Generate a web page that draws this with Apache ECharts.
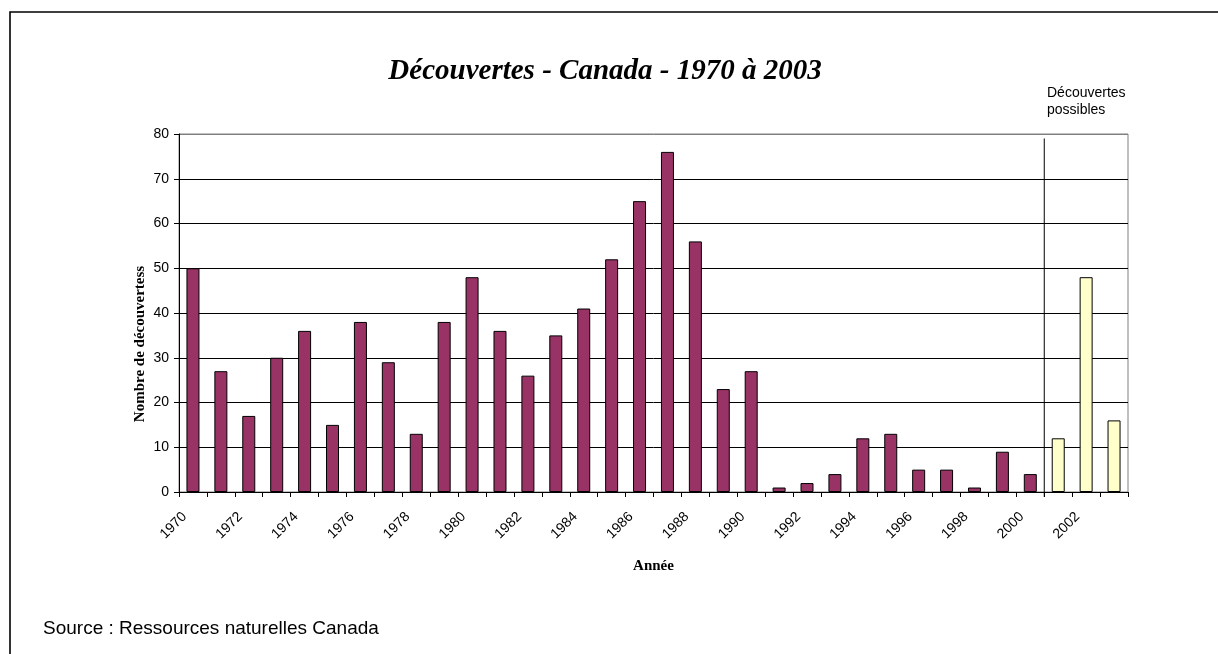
<!DOCTYPE html>
<html>
<head>
<meta charset="utf-8">
<script src="https://cdn.jsdelivr.net/npm/echarts@6/dist/echarts.min.js"></script>
<style>
  html, body { margin: 0; padding: 0; background: #fff; }
  #chart { width: 1218px; height: 654px; }
</style>
</head>
<body>
<div id="chart"></div>
<script>
// Annual discoveries in Canada, 1970-2003 (last three years: possible discoveries)
const years = ['1970', '1971', '1972', '1973', '1974', '1975', '1976', '1977', '1978', '1979',
  '1980', '1981', '1982', '1983', '1984', '1985', '1986', '1987', '1988', '1989',
  '1990', '1991', '1992', '1993', '1994', '1995', '1996', '1997', '1998', '1999',
  '2000', '2001', '2002', '2003'];
const discoveries = [50, 27, 17, 30, 36, 15, 38, 29, 13, 38,
  48, 36, 26, 35, 41, 52, 65, 76, 56, 23,
  27, 1, 2, 4, 12, 13, 5, 5, 1, 9,
  4, 12, 48, 16];
const possibleYears = ['2001', '2002', '2003'];
const yTicks = [0, 10, 20, 30, 40, 50, 60, 70, 80];

const MAROON = '#993366';
const PALE = '#FFFFCC';

const chart = echarts.init(document.getElementById('chart'), null, { renderer: 'canvas' });

const barData = discoveries.map((v, i) => ({
  value: v,
  itemStyle: { color: possibleYears.includes(years[i]) ? PALE : MAROON }
}));

// grid lines are black, except the top one that merges with the grey frame
const splitColors = yTicks.map((t, i) => (i === yTicks.length - 1 ? '#808080' : '#000'));

chart.setOption({
  animation: false,
  backgroundColor: '#fff',
  title: {
    text: 'Découvertes - Canada - 1970 à 2003',
    left: 600,
    top: 52,
    textAlign: 'center',
    textStyle: {
      fontFamily: '"Liberation Serif", "Times New Roman", serif',
      fontStyle: 'italic',
      fontWeight: 'bold',
      fontSize: 29,
      color: '#000'
    }
  },
  grid: {
    left: 179, right: 90, top: 134, bottom: 162,
    show: true, borderColor: '#808080', borderWidth: 1, backgroundColor: 'transparent'
  },
  xAxis: {
    type: 'category',
    data: years,
    name: 'Année',
    nameLocation: 'middle',
    nameGap: 67,
    nameTextStyle: {
      fontFamily: '"Liberation Serif", "Times New Roman", serif',
      fontWeight: 'bold', fontSize: 15, color: '#000'
    },
    axisLine: { lineStyle: { color: '#000', width: 1 } },
    axisTick: { show: true, interval: 0, length: 5, lineStyle: { color: '#000' } },
    axisLabel: {
      interval: 1,
      rotate: 45,
      margin: 14,
      padding: [0, 12, 0, 0],
      fontFamily: '"Liberation Sans", Arial, sans-serif',
      fontSize: 14,
      color: '#000'
    },
    splitLine: { show: false }
  },
  yAxis: {
    type: 'value',
    min: 0, max: 80, interval: 10,
    axisLine: { show: true, lineStyle: { color: '#000', width: 1 } },
    axisTick: { show: true, length: 5, lineStyle: { color: '#000' } },
    axisLabel: {
      margin: 10,
      fontFamily: '"Liberation Sans", Arial, sans-serif',
      fontSize: 14,
      color: '#000'
    },
    splitLine: { show: true, lineStyle: { color: splitColors, width: 1 } }
  },
  series: [{
    type: 'bar',
    data: barData,
    barWidth: 13,
    itemStyle: { borderColor: '#000', borderWidth: 1 }
  }]
});

// separator before the possible discoveries, plus surrounding texts
function drawExtras() {
  const idx = years.indexOf(possibleYears[0]);
  const a = chart.convertToPixel({ xAxisIndex: 0, yAxisIndex: 0 }, [idx - 1, 79]);
  const b = chart.convertToPixel({ xAxisIndex: 0, yAxisIndex: 0 }, [idx, 0]);
  const xSep = (a[0] + b[0]) / 2;
  chart.setOption({
    graphic: [
      {
        type: 'rect', silent: true,
        shape: { x: 10, y: 12, width: 1400, height: 1000 },
        style: { fill: 'none', stroke: '#000', lineWidth: 1.6 }
      },
      {
        type: 'line', silent: true,
        shape: { x1: xSep, y1: a[1], x2: xSep, y2: b[1] + 5 },
        style: { stroke: '#000', lineWidth: 1 }
      },
      {
        type: 'text', silent: true,
        x: 1047, y: 85,
        style: {
          text: 'Découvertes\npossibles',
          font: '14px "Liberation Sans", Arial, sans-serif',
          lineHeight: 17, fill: '#000', textAlign: 'left', textVerticalAlign: 'top'
        }
      },
      {
        type: 'text', silent: true,
        x: 140, y: 344, rotation: Math.PI / 2,
        style: {
          text: 'Nombre de découvertess',
          font: 'bold 15px "Liberation Serif", "Times New Roman", serif',
          fill: '#000', textAlign: 'center', textVerticalAlign: 'middle'
        }
      },
      {
        type: 'text', silent: true,
        x: 43, y: 629,
        style: {
          text: 'Source : Ressources naturelles Canada',
          font: '19px "Liberation Sans", Arial, sans-serif',
          fill: '#000', textAlign: 'left', textVerticalAlign: 'middle'
        }
      }
    ]
  });
}
drawExtras();
</script>
</body>
</html>
